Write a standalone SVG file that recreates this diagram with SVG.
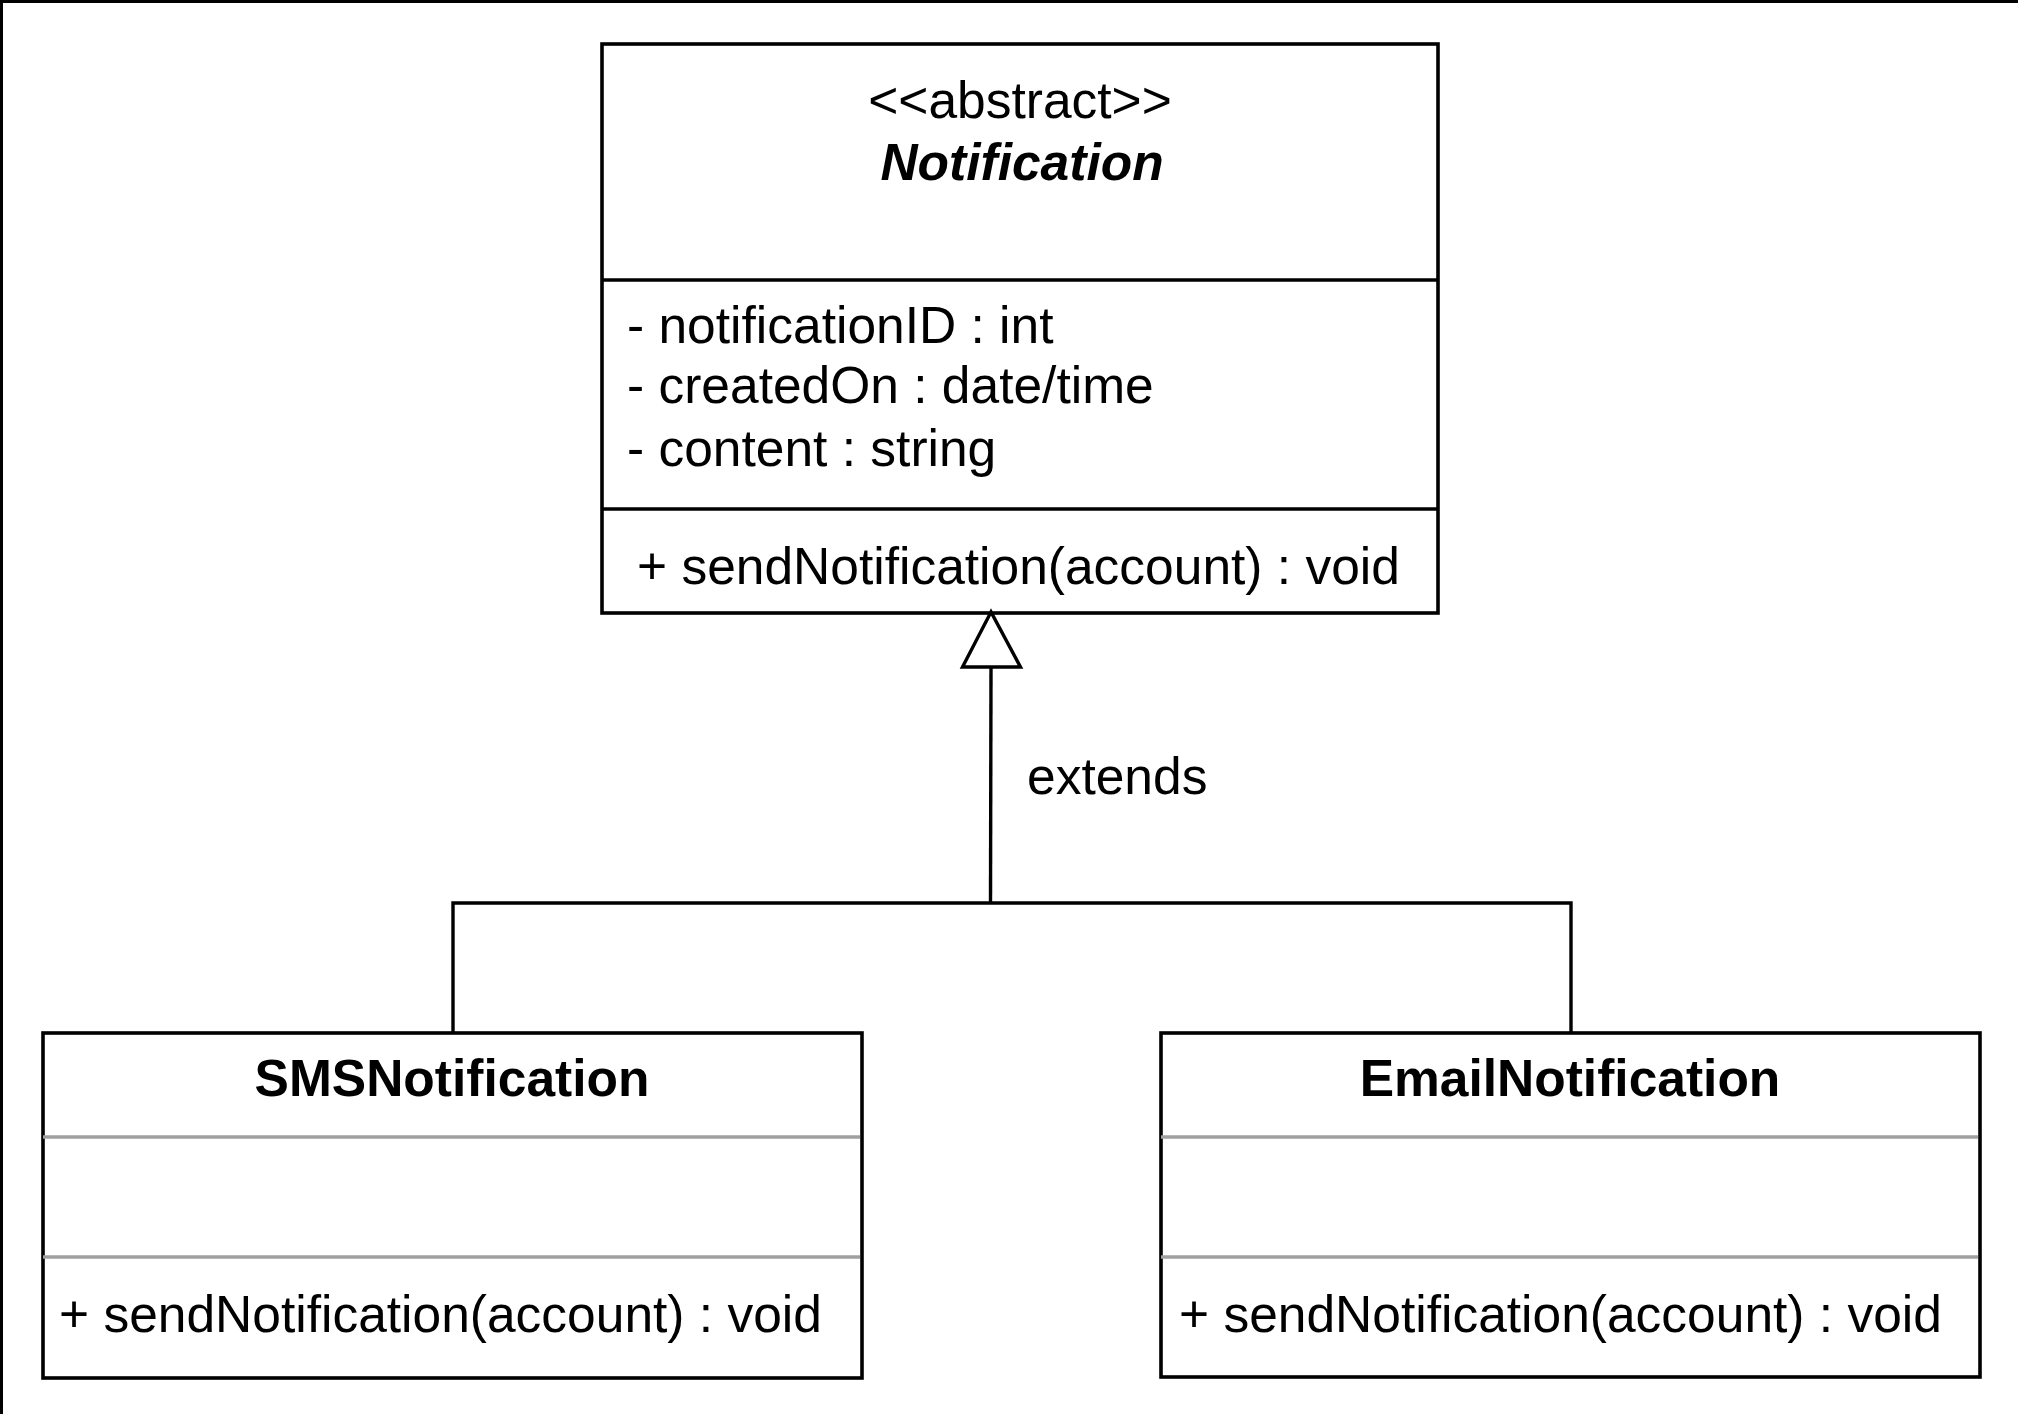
<svg xmlns="http://www.w3.org/2000/svg" width="2018" height="1414" viewBox="0 0 2018 1414">
<style>
text{font-family:"Liberation Sans",Arial,Helvetica,sans-serif;font-size:51.5px;fill:#000}
.c{text-anchor:middle}
.b{font-weight:bold}
.bi{font-weight:bold;font-style:italic}
.box{fill:#fff;stroke:#000;stroke-width:3.6}
.div{stroke:#000;stroke-width:3.6}
.gdiv{stroke:#a0a0a0;stroke-width:3.4}
.conn{fill:none;stroke:#000;stroke-width:3.4}
</style>
<rect x="0" y="0" width="2018" height="1414" fill="#fff"/>
<path d="M1.5,1414 V1.5 H2018" fill="none" stroke="#000" stroke-width="3"/>
<g id="connectors">
<path class="conn" d="M453,1033 V903 H1571 V1033"/>
<path class="conn" d="M990.5,903 L991,667"/>
</g>
<g id="Notification">
<rect class="box" x="602" y="44" width="836" height="569"/>
<line class="div" x1="602" y1="280" x2="1438" y2="280"/>
<line class="div" x1="602" y1="509" x2="1438" y2="509"/>
<text class="c" x="1020" y="118">&lt;&lt;abstract&gt;&gt;</text>
<text class="c bi" x="1022" y="180">Notification</text>
<text x="627" y="343">- notificationID : int</text>
<text x="627" y="403">- createdOn : date/time</text>
<text x="627" y="466">- content : string</text>
<text x="637" y="584">+ sendNotification(account) : void</text>
</g>
<g id="arrowhead">
<polygon points="991,612 962.5,667 1020.5,667" fill="#fff" stroke="#000" stroke-width="3.4"/>
</g>
<g id="extends-label">
<text x="1027" y="794">extends</text>
</g>
<g id="SMSNotification">
<rect class="box" x="43" y="1033" width="819" height="345"/>
<line class="gdiv" x1="43" y1="1137" x2="860" y2="1137"/>
<line class="gdiv" x1="43" y1="1257" x2="860" y2="1257"/>
<text class="c b" x="452" y="1096">SMSNotification</text>
<text x="59" y="1332">+ sendNotification(account) : void</text>
</g>
<g id="EmailNotification">
<rect class="box" x="1161" y="1033" width="819" height="344"/>
<line class="gdiv" x1="1161" y1="1137" x2="1978" y2="1137"/>
<line class="gdiv" x1="1161" y1="1257" x2="1978" y2="1257"/>
<text class="c b" x="1570" y="1096">EmailNotification</text>
<text x="1179" y="1332">+ sendNotification(account) : void</text>
</g>
</svg>
